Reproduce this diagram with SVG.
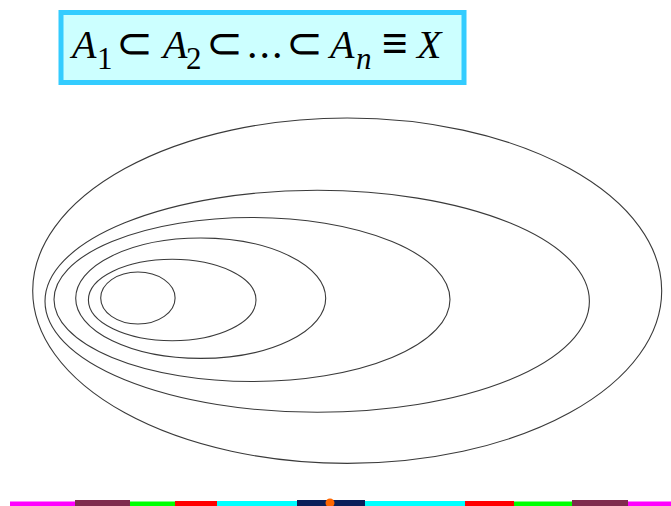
<svg xmlns="http://www.w3.org/2000/svg" width="671" height="506" viewBox="0 0 671 506">
<style>
.ell{fill:none;stroke:#3a3a3a;stroke-width:1.1}
.m{fill:#000}
.it{font-style:italic}
.big{font-size:40px}
.sub{font-size:31px}
.sym{font-family:'DejaVu Sans',sans-serif;font-weight:200;font-size:44px}
</style>
<rect width="671" height="506" fill="#ffffff"/>
<g id="title">
<rect x="61" y="12.5" width="403" height="70" fill="#ccffff" stroke="#33ccff" stroke-width="5"/>
<text class="m" font-family="'Liberation Serif', 'DejaVu Serif', serif" y="57.5">
<tspan class="it big" x="72" y="57.5">A</tspan><tspan class="sub" x="97" y="69">1</tspan>
<tspan class="sym" x="116" y="57.5">⊂</tspan>
<tspan class="it big" x="163" y="57.5">A</tspan><tspan class="sub" x="186" y="69">2</tspan>
<tspan class="sym" x="206" y="57.5">⊂</tspan>
<tspan x="247" y="57.5" font-size="42" letter-spacing="2">...</tspan>
<tspan class="sym" x="286" y="57.5">⊂</tspan>
<tspan class="it big" x="330" y="57.5">A</tspan><tspan class="it sub" x="356" y="69">n</tspan>
<tspan class="sym" x="382" y="57.5">≡</tspan>
<tspan class="it big" x="417" y="57.5">X</tspan>
</text>
</g>
<g id="sets">
<ellipse id="X" class="ell" cx="347.2" cy="290.7" rx="314.5" ry="172.7"/>
<ellipse id="A5" class="ell" cx="317.2" cy="301.3" rx="272.2" ry="111"/>
<ellipse id="A4" class="ell" cx="252" cy="299.5" rx="198" ry="82"/>
<ellipse id="A3" class="ell" cx="200.7" cy="298.2" rx="125" ry="60.2"/>
<ellipse id="A2" class="ell" cx="172.2" cy="300" rx="83.8" ry="40.7"/>
<ellipse id="A1" class="ell" cx="137.9" cy="298" rx="37.2" ry="26"/>
</g>
<g id="connectors"></g>
<g id="bar">
<rect x="10" y="501.5" width="65" height="4.5" fill="#ff00ff"/>
<rect x="75" y="500" width="55" height="6" fill="#7f2c4e"/>
<rect x="130" y="501.5" width="45" height="4.5" fill="#00ff00"/>
<rect x="175" y="501" width="42" height="5" fill="#ff0000"/>
<rect x="217" y="501" width="80" height="5" fill="#00ffff"/>
<rect x="297" y="500" width="68" height="6" fill="#0a1f5a"/>
<rect x="365" y="501" width="100" height="5" fill="#00ffff"/>
<rect x="465" y="501" width="49" height="5" fill="#ff0000"/>
<rect x="514" y="501.5" width="58" height="4.5" fill="#00ff00"/>
<rect x="572" y="500" width="56" height="6" fill="#7f2c4e"/>
<rect x="628" y="501.5" width="43" height="4.5" fill="#ff00ff"/>
<circle cx="330" cy="503" r="4.5" fill="#ff6600"/>
</g>
</svg>
